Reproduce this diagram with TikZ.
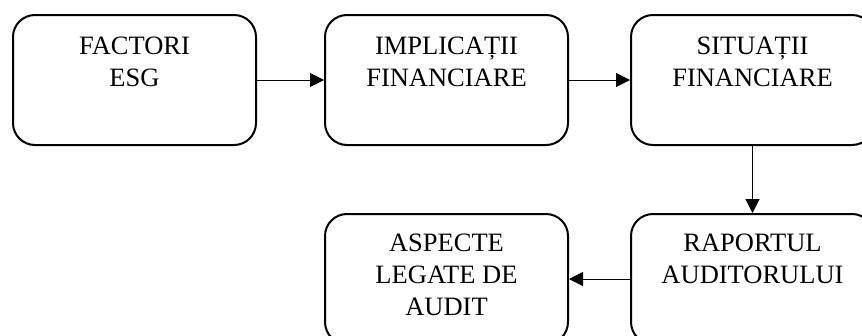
\documentclass[tikz,border=0pt]{standalone}
\usepackage{fontspec}
\setmainfont{Liberation Serif}
\usetikzlibrary{arrows.meta}
\begin{document}
\begin{tikzpicture}[x=1pt,y=-1pt,
  boxnode/.style={draw, line width=2pt, rounded corners=22pt, minimum width=243pt, minimum height=130pt, inner sep=0pt, anchor=north west},
  labelnode/.style={anchor=north, inner sep=0pt, align=center, font=\fontsize{26.5}{32}\selectfont},
  conn/.style={line width=1pt, -{Triangle[length=14pt,width=14pt]}}]
\useasboundingbox (0,0) rectangle (862,335);
\clip (0,0) rectangle (862,335);
\node[boxnode] (b1) at (12,14) {};
\node[boxnode] (b2) at (324,14) {};
\node[boxnode] (b3) at (630,14) {};
\node[boxnode] (b4) at (630,213) {};
\node[boxnode] (b5) at (324,213) {};
\node[labelnode] (t1) at ([yshift=-23pt]b1.north) {FACTORI\\ESG};
\node[labelnode] (t2) at ([yshift=-23pt]b2.north) {IMPLICAȚII\\FINANCIARE};
\node[labelnode] (t3) at ([yshift=-23pt]b3.north) {SITUAȚII\\FINANCIARE};
\node[labelnode] (t4) at ([yshift=-21pt]b4.north) {RAPORTUL\\AUDITORULUI};
\node[labelnode] (t5) at ([yshift=-21pt]b5.north) {ASPECTE\\LEGATE DE\\AUDIT};
\draw[conn] (b1.east) -- (b2.west);
\draw[conn] (b2.east) -- (b3.west);
\draw[conn] (b3.south) -- (b4.north);
\draw[conn] (b4.west) -- (b5.east);
\end{tikzpicture}
\end{document}
